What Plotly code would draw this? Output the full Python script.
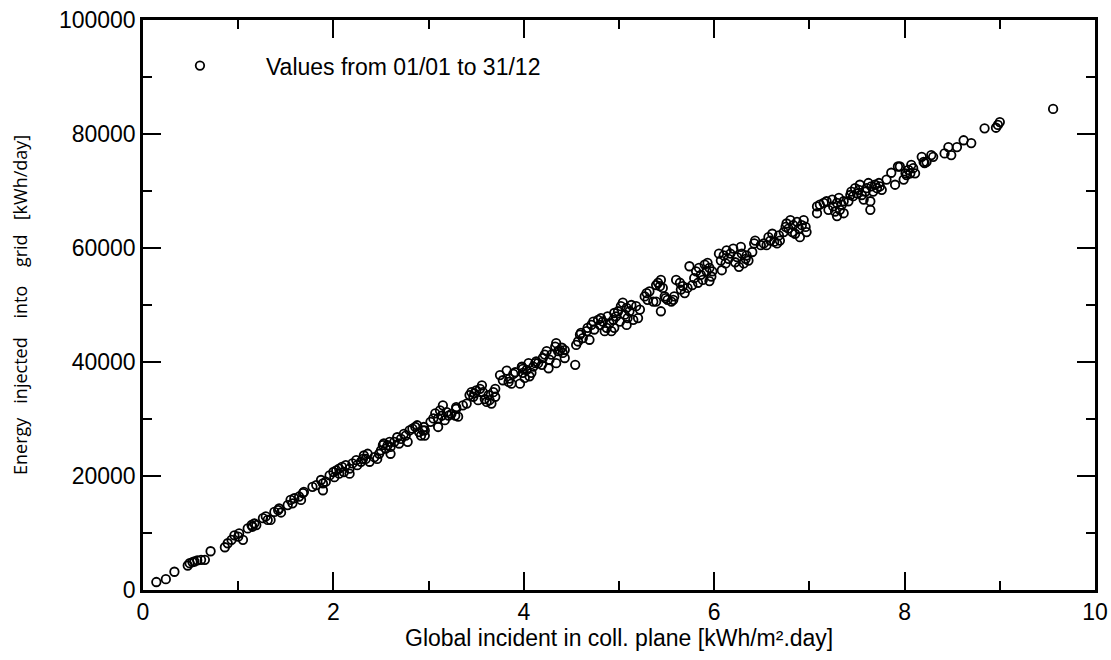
import plotly.graph_objects as go

# Global incident irradiation in collector plane [kWh/m2.day]
x_vals = [
    0.14, 0.24, 0.33, 0.47, 0.49, 0.52, 0.54, 0.57, 0.61, 0.65, 0.71, 0.86, 0.89, 0.93,
    0.96, 1.00, 1.05, 1.01, 1.10, 1.14, 1.15, 1.17, 1.19, 1.26, 1.29, 1.31, 1.34, 1.38, 1.42, 1.43, 1.45,
    1.52, 1.55, 1.57, 1.59, 1.64, 1.68, 1.69, 1.66, 1.78, 1.82, 1.87, 1.89, 1.89, 1.92,
    1.96, 2.00, 2.01, 2.03, 2.06, 2.06, 2.09, 2.11, 2.13, 2.17, 2.17,
    2.20, 2.24, 2.25, 2.29, 2.31, 2.32, 2.34, 2.36, 2.38,
    2.43, 2.46, 2.48, 2.50, 2.52, 2.53, 2.55, 2.57, 2.59, 2.60, 2.60,
    2.64, 2.67, 2.69, 2.71, 2.74, 2.76, 2.78, 2.80, 2.83, 2.86, 2.88,
    2.92, 2.94, 2.95, 2.90,
    2.96, 2.96, 3.02, 3.05, 3.07, 3.10, 3.10, 3.12, 3.14, 3.15, 3.17, 3.19, 3.21, 3.24, 3.28, 3.29, 3.31, 3.29,
    3.36, 3.40, 3.43, 3.45, 3.47, 3.48, 3.50, 3.52, 3.54, 3.56, 3.57, 3.59, 3.61, 3.63, 3.64, 3.66, 3.68, 3.70, 3.70,
    3.75, 3.78, 3.82, 3.84, 3.85, 3.87, 3.89, 3.91, 3.96, 3.98, 3.99,
    3.98, 3.99, 4.01, 4.03, 4.05, 4.06, 4.08, 4.10, 4.12, 4.13, 4.15, 4.19, 4.20, 4.22, 4.24, 4.26, 4.27,
    4.29, 4.33, 4.34, 4.34, 4.36, 4.38, 4.40, 4.41, 4.43, 4.43,
    4.54,
    4.55, 4.57, 4.59, 4.60, 4.62, 4.66, 4.69, 4.67, 4.71, 4.73, 4.74, 4.78, 4.80, 4.81, 4.83, 4.85, 4.87,
    4.88, 4.90, 4.92, 4.94, 4.95, 4.97, 4.99,
    4.95, 5.01, 5.02, 5.04, 5.06, 5.08, 5.08, 5.09, 5.11, 5.13, 5.15, 5.18, 5.20, 5.22,
    5.27, 5.29, 5.30, 5.32, 5.36, 5.39, 5.41, 5.43, 5.44, 5.46, 5.48, 5.49, 5.51, 5.55, 5.57, 5.58, 5.44, 5.39,
    5.60, 5.64, 5.65, 5.67, 5.69, 5.72, 5.74, 5.77, 5.79, 5.81, 5.83, 5.84, 5.86, 5.88, 5.90, 5.92, 5.93,
    5.95, 5.97, 5.95, 5.98,
    6.05, 6.07, 6.08, 6.10, 6.12, 6.13, 6.15, 6.17, 6.20, 6.22, 6.24, 6.26, 6.28, 6.29, 6.31, 6.33, 6.34, 6.36, 6.40,
    6.43, 6.42, 6.49, 6.52, 6.55, 6.57, 6.59, 6.61, 6.63, 6.66, 6.68, 6.69, 6.73, 6.75, 6.76, 6.78, 6.80,
    6.82, 6.83, 6.85, 6.87, 6.89, 6.90, 6.92, 6.94, 6.96, 6.97,
    7.08, 7.08, 7.11, 7.15, 7.18, 7.20, 7.24, 7.25, 7.27, 7.29, 7.29, 7.31, 7.32, 7.34, 7.36, 7.36,
    7.41, 7.43, 7.44, 7.46, 7.48, 7.50, 7.52, 7.53, 7.55, 7.57, 7.59, 7.60, 7.62, 7.64, 7.64, 7.65,
    7.67, 7.69, 7.71, 7.73, 7.74, 7.76,
    7.81, 7.86, 7.90, 7.93,
    7.95, 7.99, 8.01, 8.02, 8.04, 8.06, 8.07, 8.09, 8.11, 8.18, 8.20, 8.21, 8.23, 8.28, 8.30,
    8.42, 8.46, 8.49, 8.55, 8.62, 8.70, 8.84, 8.96, 8.98, 9.00, 9.56,
]

# Energy injected into grid [kWh/day]
y_vals = [
    1400, 1900, 3200, 4300, 4700, 4900, 5000, 5200, 5300, 5300, 6800, 7500, 8200, 8800,
    9600, 9350, 8800, 9950, 10800, 11400, 11100, 11700, 11400, 12600, 12900, 12300, 12300, 13700, 14000, 14300, 13600,
    14900, 15800, 15200, 16100, 16400, 17000, 17200, 15800, 18100, 18400, 19300, 17500, 18700, 19000,
    20100, 20700, 19800, 21000, 20400, 21300, 21600, 20700, 21900, 21300, 20400,
    22200, 22800, 21900, 22500, 23000, 23600, 23000, 23900, 22500,
    23300, 23000, 23900, 24500, 25400, 25700, 24800, 25400, 26000, 23900, 25100,
    26000, 26800, 25700, 26500, 27400, 27100, 26000, 28000, 28300, 28600, 28900,
    27100, 28000, 28600, 27700,
    28000, 27100, 29500, 30100, 31000, 28600, 30100, 31500, 30600, 32400, 29800, 31200, 30600, 30900, 30600, 31800, 30400, 32100,
    32400, 32700, 34200, 34700, 33900, 34500, 35000, 33300, 35300, 35900, 34700, 33500, 33000, 34200, 33300, 32700, 34700, 33900, 35300,
    37700, 36800, 38500, 36500, 37100, 36200, 37900, 38200, 36200, 39100, 38800,
    39200, 38100, 37200, 38600, 39800, 37500, 38100, 39200, 39800, 40100, 39800, 39500, 40700, 41300, 41900, 38900, 40400,
    41300, 42700, 43300, 39800, 41900, 42100, 42500, 41600, 40700, 42100,
    39500,
    43000, 43600, 44800, 45100, 44200, 45400, 43900, 46000, 46500, 47100, 45700, 47400, 46500, 47700, 47100, 45400, 46000,
    48000, 46800, 45400, 47400, 48600, 48000, 48900,
    46000, 47100, 49800, 50400, 48300, 49500, 46500, 47700, 48900, 50000, 47400, 49800, 47700, 49200,
    51500, 52100, 50900, 52400, 50600, 53500, 53900, 53300, 54400, 53000, 51500, 51200, 50900, 50600, 50900, 51500, 48900, 50600,
    54400, 53900, 52700, 53300, 52100, 53000, 56800, 53500, 54700, 55900, 53900, 56500, 55300, 54400, 57100, 55900, 57400,
    56500, 55000, 54200, 55900,
    59000, 57800, 56100, 58700, 57300, 59600, 58100, 59000, 59900, 57500, 58400, 56700, 60200, 59000, 57300, 58100, 58700, 57800, 59300,
    61300, 60800, 60500, 60800, 60500, 61900, 61300, 62500, 61100, 60800, 62200, 61300, 62800, 63700, 64300, 63400, 64900,
    62800, 64000, 62500, 64600, 63400, 61900, 64000, 64900, 63700, 62800,
    67300, 66100, 67600, 67900, 68200, 66700, 68500, 67300, 66400, 67900, 65600, 68800, 66700, 67600, 66100, 68200,
    68200, 69300, 69900, 69100, 70500, 69600, 70200, 71100, 69300, 68500, 69900, 70500, 71400, 68200, 66700, 70800,
    69900, 71100, 70500, 71400, 70800, 70200,
    72000, 73200, 71100, 74300,
    74300, 72000, 73100, 72800, 73700, 73100, 74600, 74000, 73100, 76000, 75100, 74900, 75100, 76300, 76000,
    76600, 77700, 76300, 77700, 78900, 78400, 81000, 81100, 81600, 82100, 84400,
]

legend_label = "Values from 01/01 to 31/12"
x_title = "Global incident in coll. plane [kWh/m\u00b2.day]"
y_words = ["Energy", "injected", "into", "grid", "[kWh/day]"]
y_gaps = [3, 4, 4, 3]
x_ticks = [0, 2, 4, 6, 8, 10]
y_ticks = [0, 20000, 40000, 60000, 80000, 100000]

y_label = y_words[0]
for w, g in zip(y_words[1:], y_gaps):
    y_label += "\u00a0" * g + w

fig = go.Figure()
fig.add_trace(go.Scatter(
    x=x_vals, y=y_vals, mode="markers", name=legend_label,
    marker=dict(symbol="circle-open", size=8.5, color="black", line=dict(width=1.8, color="black")),
    hoverinfo="x+y",
))

FONT = "Liberation Sans, Arial, Helvetica, sans-serif"
tickfont = dict(family=FONT, size=23, color="black")
axis_common = dict(
    showline=True, linecolor="black", linewidth=2.5, mirror="allticks",
    ticks="inside", ticklen=18, tickwidth=1.5, tickcolor="black",
    showgrid=False, zeroline=False, tickfont=tickfont, automargin=False,
    ticklabeloverflow="allow",
)

fig.update_layout(
    width=1111, height=660,
    margin=dict(l=143, r=16, t=20, b=70, autoexpand=False),
    paper_bgcolor="white", plot_bgcolor="white",
    showlegend=True,
    legend=dict(x=-0.0095, y=0.920, xanchor="left", yanchor="middle",
                bgcolor="rgba(0,0,0,0)", borderwidth=0, itemwidth=122,
                font=dict(family=FONT, size=23, color="black")),
    xaxis=dict(range=[0, 10], tickvals=x_ticks, **axis_common,
               minor=dict(dtick=1, ticks="inside", ticklen=9, tickwidth=1.5, tickcolor="black")),
    yaxis=dict(range=[0, 100000], tickvals=y_ticks, tickformat="d", **axis_common,
               minor=dict(dtick=10000, ticks="inside", ticklen=9, tickwidth=1.5, tickcolor="black")),
    annotations=[
        dict(text=y_label, textangle=-90,
             xref="paper", yref="paper", x=-0.1292, y=0.5, xanchor="center", yanchor="middle",
             showarrow=False, font=dict(family="Open Sans, sans-serif", size=18, color="black")),
        dict(text=x_title,
             xref="paper", yref="paper", x=0.5, y=-0.0850, xanchor="center", yanchor="middle",
             showarrow=False, font=dict(family=FONT, size=23, color="black")),
    ],
)

# remove the default 8px page margin so the figure fills the 1111x660 window exactly
fig.write_html("out.html", config={"displayModeBar": False},
               post_script="document.body.style.margin='0px';")
